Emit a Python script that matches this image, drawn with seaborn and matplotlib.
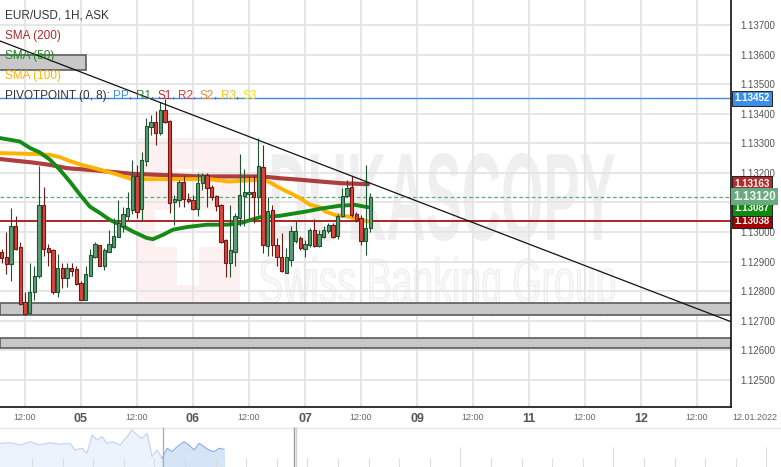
import numpy as np
import pandas as pd
import matplotlib
matplotlib.use("Agg")
import matplotlib.pyplot as plt
import matplotlib.transforms as mtransforms
from matplotlib.patches import Rectangle, PathPatch
from matplotlib.textpath import TextPath
from matplotlib.font_manager import FontProperties
import seaborn as sns

sns.set_theme(style="white")
plt.rcParams["font.family"] = ["Liberation Sans", "DejaVu Sans"]

# ------------------------------------------------------------------
# Data: EUR/USD hourly candles (4 Jan 07:00 -> 7 Jan 14:00)
# ------------------------------------------------------------------
times = pd.date_range("2022-01-04 07:00", periods=80, freq="h")

opens = [1.12931, 1.12917, 1.12892, 1.13021, 1.12949, 1.12762, 1.12726, 1.12799, 1.12850, 1.13092,
         1.12946, 1.12940, 1.12796, 1.12878, 1.12844, 1.12880, 1.12876, 1.12827, 1.12769, 1.12853,
         1.12917, 1.12956, 1.12884, 1.12934, 1.12951, 1.12985, 1.13021, 1.13056, 1.13075, 1.13190,
         1.13079, 1.13239, 1.13355, 1.13372, 1.13336, 1.13413, 1.13374, 1.13100, 1.13109, 1.13168,
         1.13111, 1.13109, 1.13078, 1.13165, 1.13194, 1.13152, 1.13123, 1.13092, 1.12974, 1.12895,
         1.12931, 1.13047, 1.13123, 1.13128, 1.13137, 1.13120, 1.13220, 1.12954, 1.13073, 1.12957,
         1.12915, 1.12863, 1.12906, 1.12971, 1.12980, 1.12943, 1.12957, 1.13008, 1.12954, 1.12985,
         1.13002, 1.13025, 1.12987, 1.13053, 1.13123, 1.13152, 1.13062, 1.13047, 1.12970, 1.13013]
highs = [1.12943, 1.12999, 1.13082, 1.13055, 1.12965, 1.12796, 1.12896, 1.12884, 1.13222, 1.13154,
         1.12960, 1.12942, 1.12926, 1.12896, 1.12897, 1.12896, 1.12886, 1.12833, 1.12886, 1.12942,
         1.12968, 1.12957, 1.12946, 1.13008, 1.13047, 1.13109, 1.13086, 1.13137, 1.13244, 1.13227,
         1.13272, 1.13385, 1.13396, 1.13408, 1.13441, 1.13450, 1.13379, 1.13126, 1.13177, 1.13190,
         1.13132, 1.13126, 1.13199, 1.13201, 1.13199, 1.13160, 1.13126, 1.13094, 1.12976, 1.13092,
         1.13064, 1.13264, 1.13213, 1.13190, 1.13194, 1.13319, 1.13295, 1.13120, 1.13092, 1.12980,
         1.12996, 1.12946, 1.13019, 1.13039, 1.12987, 1.12974, 1.13014, 1.13044, 1.13008, 1.13021,
         1.13032, 1.13031, 1.13062, 1.13149, 1.13177, 1.13190, 1.13068, 1.13058, 1.13227, 1.13132]
lows = [1.12896, 1.12859, 1.12833, 1.12940, 1.12754, 1.12720, 1.12724, 1.12771, 1.12845, 1.12920,
        1.12884, 1.12791, 1.12782, 1.12810, 1.12814, 1.12850, 1.12822, 1.12769, 1.12769, 1.12850,
        1.12912, 1.12884, 1.12872, 1.12934, 1.12946, 1.12983, 1.12999, 1.13041, 1.13062, 1.13048,
        1.13036, 1.13222, 1.13329, 1.13295, 1.13329, 1.13368, 1.13064, 1.13025, 1.13086, 1.13084,
        1.13098, 1.13075, 1.13053, 1.13143, 1.13086, 1.13109, 1.13070, 1.12963, 1.12848, 1.12848,
        1.12886, 1.13019, 1.13019, 1.13044, 1.13030, 1.13058, 1.12929, 1.12920, 1.12920, 1.12884,
        1.12865, 1.12861, 1.12884, 1.12963, 1.12940, 1.12915, 1.12950, 1.12950, 1.12951, 1.12980,
        1.12997, 1.12980, 1.12977, 1.13051, 1.13118, 1.13050, 1.13035, 1.12957, 1.12923, 1.13001]
closes = [1.12912, 1.12892, 1.13019, 1.12942, 1.12756, 1.12724, 1.12799, 1.12850, 1.13092, 1.12942,
          1.12931, 1.12799, 1.12878, 1.12844, 1.12880, 1.12870, 1.12825, 1.12769, 1.12858, 1.12922,
          1.12959, 1.12884, 1.12940, 1.12959, 1.12987, 1.13030, 1.13061, 1.13081, 1.13190, 1.13068,
          1.13242, 1.13359, 1.13372, 1.13336, 1.13413, 1.13372, 1.13098, 1.13111, 1.13169, 1.13111,
          1.13106, 1.13078, 1.13165, 1.13194, 1.13149, 1.13120, 1.13089, 1.12968, 1.12895, 1.12940,
          1.13055, 1.13126, 1.13134, 1.13134, 1.13120, 1.13222, 1.12957, 1.13070, 1.12957, 1.12915,
          1.12867, 1.12915, 1.13002, 1.13002, 1.12946, 1.12960, 1.13008, 1.12954, 1.12994, 1.13008,
          1.13025, 1.12985, 1.13055, 1.13123, 1.13149, 1.13058, 1.13041, 1.12971, 1.13013, 1.13120]

# moving averages (x in hours from 4 Jan 00:00)
sma200_x = [6.6, 13.7, 17.4, 21.0, 27.6, 34.9, 49.5, 62.8, 66.6, 70.9, 75.2, 79.9, 85.5]
sma200_y = [1.13247, 1.13235, 1.13227, 1.13216, 1.13208, 1.13197, 1.13188, 1.13188, 1.13182,
            1.13177, 1.13171, 1.13165, 1.13162]
sma100_x = [6.6, 13.7, 17.4, 19.5, 21.6, 24.2, 27.6, 31.3, 34.9, 51.6, 55.5, 62.8, 64.5, 66.6,
            68.8, 70.9, 73.1, 75.2, 76.3, 78.4, 81.2, 83.3, 85.5]
sma100_y = [1.13267, 1.13264, 1.13261, 1.13253, 1.13240, 1.13227, 1.13213, 1.13197, 1.13179,
            1.13179, 1.13171, 1.13177, 1.13168, 1.13149, 1.13132, 1.13115, 1.13092, 1.13084,
            1.13070, 1.13058, 1.13053, 1.13044, 1.13036]
sma50_x = [6.6, 10.9, 13.1, 15.2, 17.4, 19.5, 21.6, 23.8, 25.9, 28.1, 30.2, 32.4, 35.1, 38.1,
           39.4, 41.6, 43.7, 46.7, 51.0, 55.3, 58.1, 62.3, 66.6, 72.4, 75.2, 79.5, 82.7, 85.5]
sma50_y = [1.13318, 1.13306, 1.13284, 1.13269, 1.13244, 1.13210, 1.13171, 1.13126, 1.13086,
           1.13064, 1.13041, 1.13025, 1.13002, 1.12980, 1.12976, 1.12991, 1.13008, 1.13017,
           1.13025, 1.13025, 1.13030, 1.13050, 1.13055, 1.13070, 1.13079, 1.13089, 1.13092,
           1.13084]

trend_x = [6.64, 163.3]
trend_y = [1.13646, 1.12697]

pivot_pp = 1.13452
pivot_s1 = 1.13038
last_price = 1.13120
sma200_last = 1.13163
sma50_last = 1.13087
box_top = (0, 25.1, 1.13547, 1.13597)          # h0, h1, low, high
bands = [(1.12719, 1.12759), (1.12607, 1.12641)]

price_ticks = [1.125, 1.126, 1.127, 1.128, 1.129, 1.130, 1.131, 1.132, 1.133, 1.134,
               1.135, 1.136, 1.137]
tick_hours = [12, 24, 36, 48, 60, 72, 84, 96, 108, 120, 132, 144, 156]
tick_labels = ["12:00", "05", "12:00", "06", "12:00", "07", "12:00", "09", "12:00", "11",
               "12:00", "12", "12:00"]

# navigator overview (x in px, height in px)
nav1_x = [0, 10, 20, 30, 40, 50, 60, 70, 75, 82, 87, 92, 97, 102, 107, 112, 120, 127, 132,
          137, 142, 147, 152, 157, 162]
nav1_y = [23.7, 24.3, 22, 25.3, 22, 24.3, 22.7, 23.7, 17, 18.7, 13.7, 32, 27, 30.3, 23.7, 25.3,
          22, 30.3, 37, 32, 28.7, 33.7, 10.3, 17, 8.7]
nav2_x = [162, 167, 172, 177, 184, 189, 194, 199, 204, 209, 214, 219, 224]
nav2_y = [8.7, 18.7, 15.3, 20.3, 25.3, 22, 17, 23.7, 20.3, 17, 15.3, 18.7, 17.7]

df = pd.DataFrame({"time": times, "open": opens, "high": highs, "low": lows, "close": closes})
df["h"] = (df["time"] - pd.Timestamp("2022-01-04")) / pd.Timedelta(hours=1)
df["up"] = df["close"] >= df["open"]

# ------------------------------------------------------------------
# Figure
# ------------------------------------------------------------------
W, H = 781, 467
AX_W, AX_H = 731, 407
fig = plt.figure(figsize=(W / 100, H / 100), dpi=100)
fig.patch.set_facecolor("white")
ax = fig.add_axes([0, (H - AX_H) / H, AX_W / W, AX_H / H])
nav = fig.add_axes([0, 0, 1, 40 / H])

XMIN, XMAX = 6.643, 163.29
YMIN, YMAX = 1.124087, 1.137845

def px_box(x0, x1, y0, y1):
    return x0 / AX_W, x1 / AX_W, 1 - y1 / AX_H, 1 - y0 / AX_H

# watermark
def fit_text(s, x0, x1, y0, y1, weight, fc, ec, lw):
    tp = TextPath((0, 0), s, size=100, prop=FontProperties(family="Liberation Sans", weight=weight))
    bb = tp.get_extents()
    a0, a1, b0, b1 = px_box(x0, x1, y0, y1)
    tr = (mtransforms.Affine2D().translate(-bb.x0, -bb.y0)
          .scale((a1 - a0) / bb.width, (b1 - b0) / bb.height)
          .translate(a0, b0) + ax.transAxes)
    ax.add_patch(PathPatch(tp, transform=tr, fc=fc, ec=ec, lw=lw, zorder=0.3))

a0, a1, b0, b1 = px_box(137, 240, 138, 317)
ax.add_patch(Rectangle((a0, b0), a1 - a0, b1 - b0, transform=ax.transAxes,
                       fc="#fdf0f0", ec="none", zorder=0.2))
for bx in [(177, 199, 169, 285), (155, 240, 210, 247)]:
    a0, a1, b0, b1 = px_box(*bx)
    ax.add_patch(Rectangle((a0, b0), a1 - a0, b1 - b0, transform=ax.transAxes,
                           fc="white", ec="none", zorder=0.25))
fit_text("DUKASCOPY", 272, 615, 153, 241, "bold", "#efefef", "none", 0)
fit_text("Swiss Banking Group", 260, 615, 257, 316, "normal", "#f8f8f8", "#ebebeb", 0.6)

# grid
ax.grid(True, color="#e4e4e4", lw=1.3)
ax.set_axisbelow(True)

# zones and levels
for lo, hi in bands:
    ax.axhspan(lo, hi, fc="#c8c8c8", ec="#5c5c5c", lw=1.2, zorder=2)
ax.add_patch(Rectangle((box_top[0], box_top[2]), box_top[1] - box_top[0], box_top[3] - box_top[2],
                       fc="#c8c8c8", ec="#5c5c5c", lw=1.2, zorder=2))
ax.axhline(pivot_pp, color="#3d8ee8", lw=1.0, zorder=2.5)
ax.axhline(pivot_s1, color="#a30000", lw=1.2, zorder=2.5)
ax.axhline(last_price, color="#5fa878", lw=0.9, ls=(0, (3, 2)), zorder=2.5)

# moving averages
sns.lineplot(x=sma200_x, y=sma200_y, ax=ax, color="#a52a2a", lw=3.0, alpha=0.9, zorder=3)
sns.lineplot(x=sma100_x, y=sma100_y, ax=ax, color="#ffb300", lw=2.8, zorder=3)
sns.lineplot(x=sma50_x, y=sma50_y, ax=ax, color="#168a16", lw=2.8, zorder=3.2)

# candles
up_fill, up_edge = "#5a9e72", "#1e5530"
dn_fill, dn_edge = "#d8473d", "#6e1a16"
edge = np.where(df["up"], up_edge, dn_edge)
fill = np.where(df["up"], up_fill, dn_fill)
ax.vlines(df["h"], df["low"], df["high"], colors=edge, lw=0.8, zorder=4)
body_lo = df[["open", "close"]].min(axis=1)
body_h = (df["close"] - df["open"]).abs().clip(lower=0.00003)
ax.bar(df["h"], body_h, bottom=body_lo, width=0.65, color=fill, edgecolor=edge, lw=0.8, zorder=4.5)

# trend line
ax.plot(trend_x, trend_y, color="#111111", lw=0.9, zorder=5)

# axes styling
ax.set_xlim(XMIN, XMAX)
ax.set_ylim(YMIN, YMAX)
for s in ["top", "left"]:
    ax.spines[s].set_visible(False)
for s in ["right", "bottom"]:
    ax.spines[s].set_color("#111111")
    ax.spines[s].set_linewidth(1.2)
ax.yaxis.tick_right()
ax.set_yticks(price_ticks)
ax.set_yticklabels([f"{p:.5f}" for p in price_ticks])
ax.tick_params(axis="y", length=0, pad=7, labelsize=7, labelcolor="#555555")
ax.set_xticks(tick_hours)
ax.set_xticklabels(tick_labels)
ax.tick_params(axis="x", length=0, pad=4)
for lab in ax.get_xticklabels():
    if ":" in lab.get_text():
        lab.set_fontsize(6.5)
        lab.set_color("#666666")
    else:
        lab.set_fontsize(9)
        lab.set_fontweight("bold")
        lab.set_color("#555555")
ax.set_xlabel("")
ax.set_ylabel("")
fig.text(755 / W, 1 - 417 / H, "12.01.2022", ha="center", va="center", fontsize=6.5, color="#666666")

# price labels on the right axis
blend = mtransforms.blended_transform_factory(ax.transAxes, ax.transData)
def price_tag(p, fc, fs=7, tc="white", z=8, dy=0.0):
    ax.text(1 + 3 / AX_W, p + dy, f"{p:.5f}", transform=blend, ha="left", va="center",
            fontsize=fs, fontweight="bold", color=tc, clip_on=False, zorder=z,
            bbox=dict(boxstyle="square,pad=0.25", fc=fc, ec="#222222", lw=0.7))
price_tag(pivot_pp, "#3d8ee8")
price_tag(sma200_last, "#b22a2a")
price_tag(pivot_s1, "#a30000", z=8)
price_tag(sma50_last, "#0e8a0e", z=8.5, dy=-0.00006)
ax.text(1 + 2 / AX_W, last_price, f"{last_price:.5f}", transform=blend, ha="left", va="center",
        fontsize=8.5, fontweight="bold", color="#f0f7f0", clip_on=False, zorder=9,
        bbox=dict(boxstyle="square,pad=0.2", fc="#6aaa80", ec="none"))

# legend texts
leg = [("EUR/USD, 1H, ASK", "#333333", 15), ("SMA (200)", "#b22a2a", 36),
       ("SMA (50)", "#1a8a1a", 56), ("SMA (100)", "#ffb300", 76)]
for s, c, y in leg:
    ax.text(5 / AX_W, 1 - y / AX_H, s, color=c, transform=ax.transAxes, ha="left",
            va="center", fontsize=8.5, zorder=7)
pieces = [("PP", "#4a90e2", 2.4), (",", "#555555", 0), ("R1", "#2e8b2e", 2.4), (",", "#555555", 0),
          ("S1", "#c62828", 2.4), (",", "#555555", 0), ("R2", "#e53935", 2.4), (",", "#555555", 0),
          ("S2", "#f5892e", 2.4), (",", "#555555", 0), ("R3", "#ffc020", 2.4), (",", "#555555", 0),
          ("S3", "#ffe000", 2.4)]
t = ax.text(5 / AX_W, 1 - 96 / AX_H, "PIVOTPOINT (0, 8):", color="#333333", transform=ax.transAxes,
            ha="left", va="center", fontsize=8.5, zorder=7)
for s, c, gap in pieces:
    t = ax.annotate(s, xy=(1, 0), xycoords=t, xytext=(gap, 0), textcoords="offset points",
                    ha="left", va="bottom", color=c, fontsize=8.5, zorder=7)

# navigator
nav.set_xlim(0, W)
nav.set_ylim(0, 40)
nav.axis("off")
nav.fill_between(nav1_x, nav1_y, color="#edf3fc", zorder=1)
nav.plot(nav1_x, nav1_y, color="#c0d4f3", lw=0.8, zorder=2)
nav.fill_between(nav2_x, nav2_y, color="#d6e4f8", zorder=1)
nav.plot(nav2_x, nav2_y, color="#8fb0ea", lw=0.8, zorder=2)
nav.axhline(39.5, color="#e6e6e6", lw=1)
for xt in np.arange(32, 781, 30.6):
    tall = abs(xt - 461) < 10 or abs(xt - 613) < 10 or abs(xt - 765) < 10
    nav.vlines(xt, 0, 20 if tall else 9, color="#dddddd", lw=0.8)
nav.vlines(163, 0, 40, color="#b0b0b0", lw=1)
nav.vlines(294, 0, 40, color="#999999", lw=1)
nav.vlines(296, 0, 40, color="#d0d0d0", lw=1)

fig.savefig("out.png", dpi=100)
